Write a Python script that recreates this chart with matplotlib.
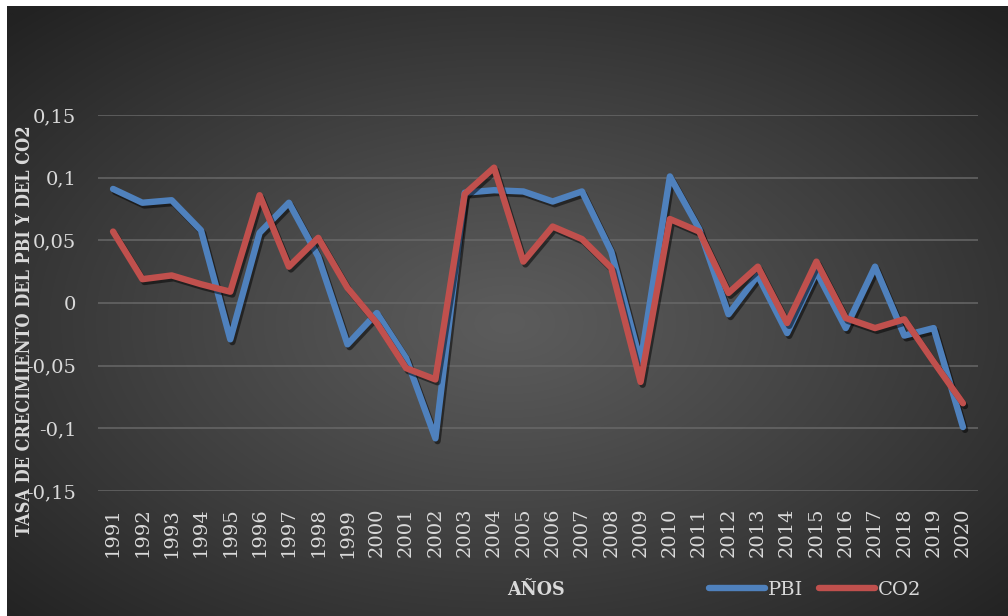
import numpy as np
import matplotlib
matplotlib.use("Agg")
import matplotlib.pyplot as plt
import matplotlib.patheffects as pe

# Annual growth rates (1991-2020)
years = [str(y) for y in range(1991, 2021)]
pbi = [0.091, 0.080, 0.082, 0.058, -0.029, 0.056, 0.080, 0.037, -0.033, -0.008,
       -0.044, -0.108, 0.088, 0.090, 0.089, 0.081, 0.089, 0.041, -0.047, 0.101,
       0.059, -0.009, 0.022, -0.024, 0.025, -0.020, 0.029, -0.026, -0.020, -0.099]
co2 = [0.057, 0.019, 0.022, 0.015, 0.009, 0.086, 0.029, 0.052, 0.012, -0.016,
       -0.052, -0.061, 0.087, 0.108, 0.033, 0.061, 0.051, 0.028, -0.063, 0.067,
       0.057, 0.008, 0.029, -0.016, 0.033, -0.012, -0.020, -0.013, -0.047, -0.080]
ytick_values = [-0.15, -0.10, -0.05, 0.0, 0.05, 0.10, 0.15]
ytick_labels = ["-0,15", "-0,1", "-0,05", "0", "0,05", "0,1", "0,15"]

W, H = 1008, 616
fig = plt.figure(figsize=(W / 100, H / 100), dpi=100)
fig.patch.set_facecolor("white")

# Radial gradient backdrop
bg = fig.add_axes([7 / W, 0, 1 - 7 / W, 1 - 6 / H])
bg.set_axis_off()
gy, gx = np.mgrid[0:1:300j, 0:1:500j]
r = np.sqrt(((gx - 0.5) / 0.5) ** 2 + ((gy - 0.52) / 0.5) ** 2) / np.sqrt(2)
r = np.clip(r, 0, 1)
c_in, c_out = 0x5c / 255, 0x22 / 255
shade = c_in + (c_out - c_in) * r ** 1.1
bg.imshow(np.dstack([shade, shade, shade]), aspect="auto", extent=[0, 1, 0, 1],
          interpolation="bilinear")
bg.set_xlim(0, 1)
bg.set_ylim(0, 1)

serif = ["DejaVu Serif"]
txt = "#d9d9d9"

ax = fig.add_axes([98.4 / W, 1 - 491 / H, (977.6 - 98.4) / W, (491 - 115) / H])
ax.set_facecolor("none")
x = np.arange(len(years))

shadow = [pe.SimpleLineShadow(offset=(1.5, -2), shadow_color="black", alpha=0.5),
          pe.Normal()]
ax.plot(x, pbi, color="#4F81BD", lw=4.6, label="PBI", solid_capstyle="round",
        solid_joinstyle="round", path_effects=shadow, zorder=3)
ax.plot(x, co2, color="#C0504D", lw=4.6, label="CO2", solid_capstyle="round",
        solid_joinstyle="round", path_effects=shadow, zorder=4)

ax.set_xlim(-0.5, len(years) - 0.5)
ax.set_ylim(-0.15, 0.15)
ax.set_yticks(ytick_values)
ax.set_yticklabels(ytick_labels)
ax.set_xticks(x)
ax.set_xticklabels(years, rotation=90)
ax.tick_params(length=0, colors=txt, labelsize=14)
ax.tick_params(axis="y", pad=16)
ax.tick_params(axis="x", pad=12)
for lab in ax.get_xticklabels() + ax.get_yticklabels():
    lab.set_family(serif)
ax.grid(axis="y", color="#6a6a6a", lw=1.3, alpha=0.8, zorder=0)
for s in ax.spines.values():
    s.set_visible(False)

fig.text(25 / W, 1 - 331 / H, "TASA DE CRECIMIENTO DEL PBI Y DEL CO2", rotation=90,
         ha="center", va="center", color=txt, fontsize=13, fontweight="bold",
         family=serif, fontstretch="condensed")
fig.text(536 / W, 1 - 590 / H, "AÑOS", ha="center", va="center", color=txt,
         fontsize=14, fontweight="bold", family=serif, fontstretch="condensed")

leg = ax.legend(loc="center", bbox_to_anchor=(815 / W, 1 - 590 / H),
                bbox_transform=fig.transFigure, ncol=2, frameon=False,
                handlelength=2.9, handletextpad=0.15, columnspacing=0.8,
                prop={"family": serif, "size": 14})
for t in leg.get_texts():
    t.set_color(txt)
for h in leg.get_lines():
    h.set_path_effects([])

fig.savefig("out.png", dpi=100, facecolor=fig.get_facecolor())
